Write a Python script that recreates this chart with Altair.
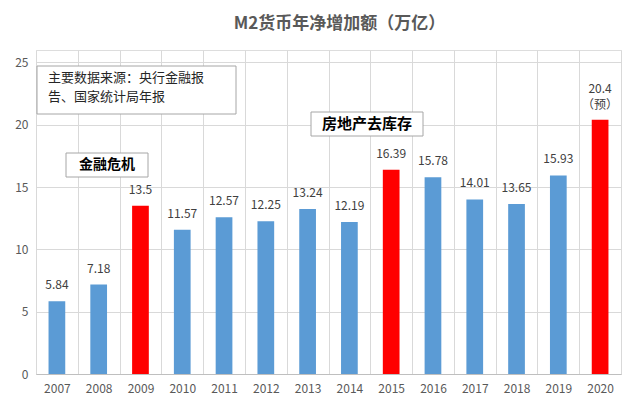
import altair as alt
import pandas as pd

years = ["2007", "2008", "2009", "2010", "2011", "2012", "2013",
         "2014", "2015", "2016", "2017", "2018", "2019", "2020"]
values = [5.84, 7.18, 13.5, 11.57, 12.57, 12.25, 13.24,
          12.19, 16.39, 15.78, 14.01, 13.65, 15.93, 20.4]
labels = ["5.84", "7.18", "13.5", "11.57", "12.57", "12.25", "13.24",
          "12.19", "16.39", "15.78", "14.01", "13.65", "15.93", "20.4"]
notes = ["", "", "", "", "", "", "", "", "", "", "", "", "", "（预）"]
highlight = [False, False, True, False, False, False, False,
             False, True, False, False, False, False, True]

title_text = "M2货币年净增加额（万亿）"
note_lines = "主要数据来源：央行金融报\n告、国家统计局年报"
crisis_text = "金融危机"
housing_text = "房地产去库存"

df = pd.DataFrame({"year": years, "value": values, "label": labels,
                   "note": notes,
                   "hl": ["red" if h else "blue" for h in highlight]})

FONT = "Noto Sans CJK SC"
W, H = 585, 324

x = alt.X("year:N", sort=years, title=None,
          scale=alt.Scale(paddingInner=0, paddingOuter=0),
          axis=alt.Axis(tickBand="extent", grid=True, gridColor="#D9D9D9",
                        ticks=False, domainColor="#BFBFBF", labelAngle=0,
                        labelColor="#595959", labelFontSize=12, labelFont=FONT,
                        labelPadding=9))
y = alt.Y("value:Q", title=None,
          scale=alt.Scale(domain=[0, 25]),
          axis=alt.Axis(values=[0, 5, 10, 15, 20, 25], grid=True,
                        gridColor="#D9D9D9", domain=False, ticks=False,
                        labelColor="#595959", labelFontSize=12, labelFont=FONT,
                        labelPadding=8))

base = alt.Chart(df)

bars = base.mark_bar(width=alt.RelativeBandSize(0.4)).encode(
    x=x, y=y,
    color=alt.Color("hl:N", scale=alt.Scale(domain=["blue", "red"],
                                            range=["#5B9BD5", "#FF0000"]),
                    legend=None))

tx = alt.X("year:N", sort=years)
texts_plain = base.transform_filter(alt.datum.note == "").mark_text(
    baseline="bottom", dy=-9, fontSize=12, font=FONT, color="#404040").encode(
    x=tx, y="value:Q", text="label:N")
texts_top = base.transform_filter(alt.datum.note != "").mark_text(
    baseline="bottom", dy=-24, fontSize=12, font=FONT, color="#404040").encode(
    x=tx, y="value:Q", text="label:N")
texts_note = base.transform_filter(alt.datum.note != "").mark_text(
    baseline="bottom", dy=-8, fontSize=12, font=FONT, color="#404040").encode(
    x=tx, y="value:Q", text="note:N")

ann = pd.DataFrame({"k": [0]})
abase = alt.Chart(ann)

box1 = abase.mark_rect(fill="white", stroke="#A6A6A6", strokeWidth=1).encode(
    x=alt.value(1), x2=alt.value(200), y=alt.value(16), y2=alt.value(64))
txt1 = abase.mark_text(align="left", baseline="middle", fontSize=13, font=FONT,
                       color="#262626", lineBreak="\n", lineHeight=19).encode(
    x=alt.value(12), y=alt.value(28), text=alt.value(note_lines))

box2 = abase.mark_rect(fill="white", stroke="#A6A6A6", strokeWidth=1).encode(
    x=alt.value(30), x2=alt.value(112), y=alt.value(103), y2=alt.value(127))
txt2 = abase.mark_text(align="center", baseline="middle", fontSize=14, font=FONT,
                       fontWeight="bold", color="#000000").encode(
    x=alt.value(71), y=alt.value(115), text=alt.value(crisis_text))

box3 = abase.mark_rect(fill="white", stroke="#A6A6A6", strokeWidth=1).encode(
    x=alt.value(275), x2=alt.value(387), y=alt.value(62), y2=alt.value(86))
txt3 = abase.mark_text(align="center", baseline="middle", fontSize=15, font=FONT,
                       fontWeight="bold", color="#000000").encode(
    x=alt.value(331), y=alt.value(74), text=alt.value(housing_text))

chart = alt.layer(bars, texts_plain, texts_top, texts_note,
                  box1, txt1, box2, txt2, box3, txt3).properties(
    width=W, height=H,
    title=alt.Title(title_text, fontSize=17, fontWeight="bold", color="#595959",
                    font=FONT, anchor="middle", dx=11, offset=17),
    autosize=alt.AutoSizeParams(type="none"),
    padding={"left": 28, "top": 42, "right": 10, "bottom": 30},
).configure_view(stroke="#D9D9D9").configure(background="white")

chart.save("out.html", embed_options={"renderer": "svg", "actions": False})
